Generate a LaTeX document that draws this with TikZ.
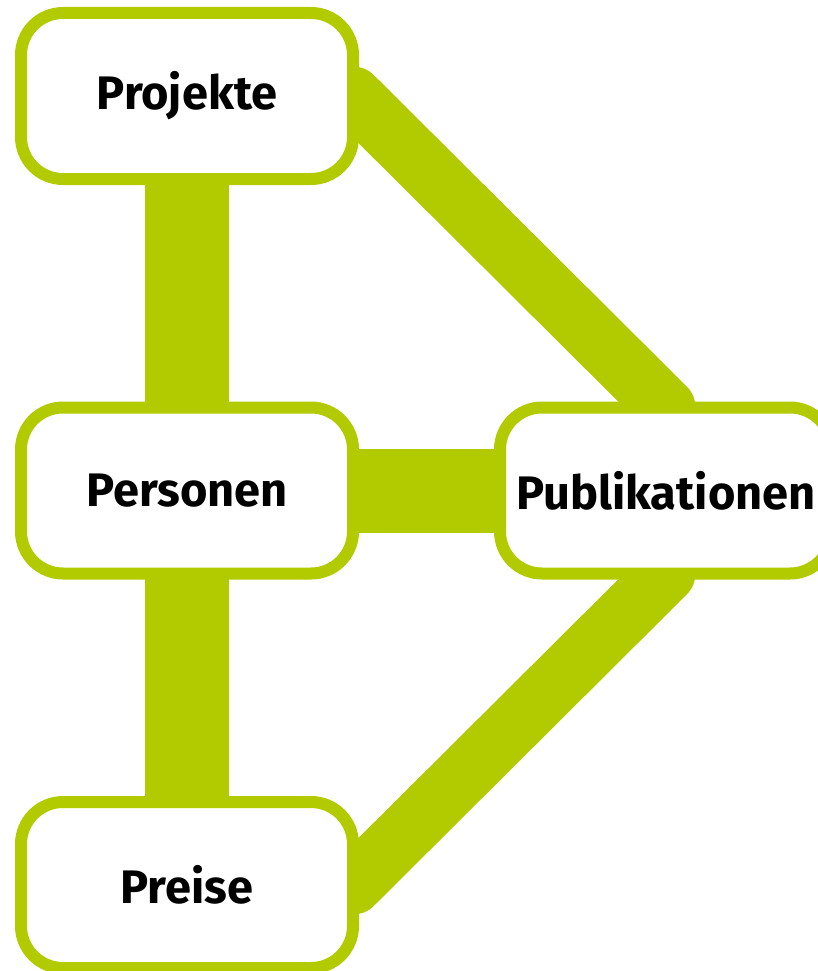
\documentclass[tikz,border=0pt]{standalone}
\usepackage{fontspec}
\setmainfont{Fira Sans}
\usetikzlibrary{backgrounds}
\definecolor{linkgreen}{HTML}{B2CA00}
\begin{document}
\begin{tikzpicture}[x=1pt,y=-1pt,
  entity/.style={draw=linkgreen, line width=12pt, fill=white,
    rounded corners=42pt, minimum width=332pt, minimum height=166pt,
    outer sep=0pt, inner sep=0pt,
    font=\fontsize{47}{56}\selectfont\bfseries},
  straightlink/.style={draw=linkgreen, line width=84pt},
  diaglink/.style={draw=linkgreen, line width=59pt, line cap=round}]
  \useasboundingbox (0,0) rectangle (818,971);
  \clip (0,0) rectangle (818,971);

  % entity boxes
  \node[entity] (proj)  at (187,96)    {Projekte};
  \node[entity] (pers)  at (187,490.5) {Personen};
  \node[entity] (pub)   at (666,490.5) {Publikationen};
  \node[entity] (preis) at (187,885)   {Preise};

  % relations, drawn beneath the boxes
  \begin{scope}[on background layer]
    \draw[straightlink] (proj.south) -- (pers.north);
    \draw[straightlink] (pers.south) -- (preis.north);
    \draw[straightlink] (pers.east) -- (pub.west);
    \draw[diaglink] (proj.east) -- (pub.north);
    \draw[diaglink] (pub.south) -- (preis.east);
  \end{scope}
\end{tikzpicture}
\end{document}
